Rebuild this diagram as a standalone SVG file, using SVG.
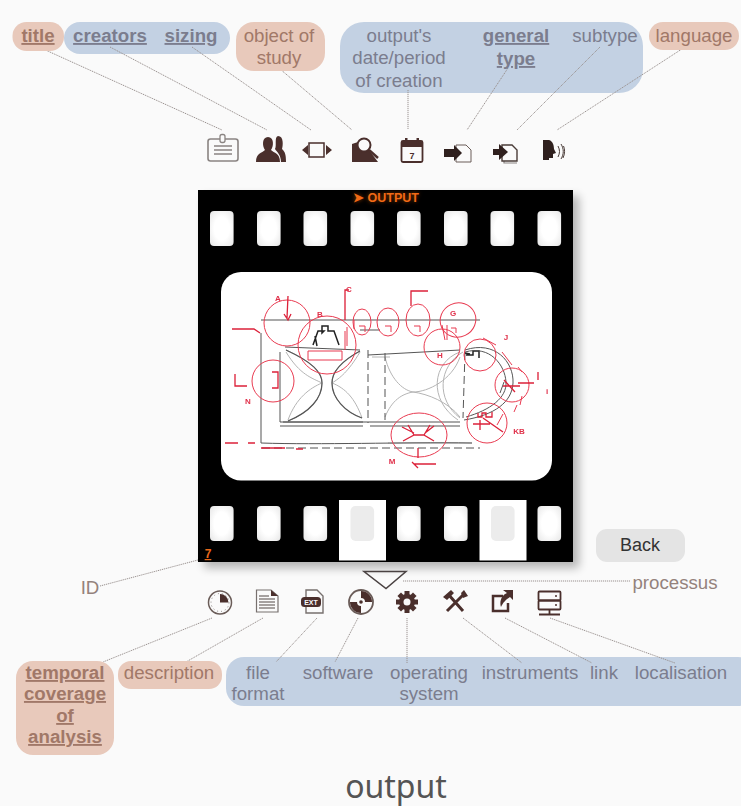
<svg xmlns="http://www.w3.org/2000/svg" width="741" height="806" viewBox="0 0 741 806">
<style>
text{font-family:"Liberation Sans",Arial,sans-serif;font-size:18.7px;text-anchor:middle}
.b{fill:#c3d1e3}.s{fill:#e8c9bb}
.tb{fill:#7b7d8e}.ts{fill:#a17868}.tg{fill:#94827c}
.u{font-weight:bold;text-decoration:underline}
.c{fill:none;stroke:#9a9290;stroke-width:1;stroke-dasharray:1.2 .8}
.i{fill:#4a2f2c}.il{fill:none;stroke:#4a2f2c;stroke-width:1.8}.ig{fill:none;stroke:#8a8482;stroke-width:1.6}
.r{fill:none;stroke:#e83a50;stroke-width:1}.rd{fill:none;stroke:#dc2038;stroke-width:1.3}
.k{fill:none;stroke:#555;stroke-width:1}.kb{fill:none;stroke:#222;stroke-width:1.5}.x{fill:none;stroke:#555;stroke-width:1.200}.g{fill:none;stroke:#b4b4b4;stroke-width:1}
.d{stroke-dasharray:8 4}
.h{fill:url(#hole)}
.l{font-size:8px;font-weight:bold;fill:#e0304a}
</style>
<defs>
<radialGradient id="hole" cx=".5" cy=".5" r=".72"><stop offset=".45" stop-color="#fff"/><stop offset=".85" stop-color="#ececec"/><stop offset="1" stop-color="#c9c9c9"/></radialGradient>
<filter id="sh" x="-10%" y="-10%" width="125%" height="125%"><feGaussianBlur stdDeviation="5"/></filter>
<filter id="soft" x="-5%" y="-5%" width="110%" height="110%"><feGaussianBlur stdDeviation=".4"/></filter>
<filter id="glow" x="-20%" y="-60%" width="140%" height="220%"><feGaussianBlur stdDeviation="2"/></filter>
</defs>
<rect width="741" height="806" fill="#fafafa"/>

<g id="bands">
<rect class="b" x="64" y="22" width="166" height="32" rx="16"/>
<rect class="b" x="340" y="22" width="303" height="71" rx="24"/>
<rect class="b" x="226" y="657" width="530" height="49" rx="18"/>
</g>

<g id="connectors">
<path class="c" d="M41 48L222 130M110 47L267 130M192 47L311 130M280 69L352 130M408 90V129M508 68L467 130M600 47L517 130M685 47L557 130"/>
<path class="c" d="M100 586L198 560M403 581H630M212 618L103 662M263 618L186 662M317 618L276 662M358 618L335 662M407 618V663M463 618L522 663M505 618L592 663M550 618L675 663"/>
</g>

<g id="film">
<rect x="204" y="196" width="375" height="372" fill="#000" opacity=".28" filter="url(#sh)"/>
<rect x="198" y="190" width="375" height="372" fill="#000"/>
<g id="holes-top">
<rect class="h" x="210" y="211" width="23.6" height="35" rx="4"/><rect class="h" x="257" y="211" width="23.6" height="35" rx="4"/><rect class="h" x="303.5" y="211" width="23.6" height="35" rx="4"/><rect class="h" x="350.5" y="211" width="23.6" height="35" rx="4"/><rect class="h" x="397" y="211" width="23.6" height="35" rx="4"/><rect class="h" x="444" y="211" width="23.6" height="35" rx="4"/><rect class="h" x="490.5" y="211" width="23.6" height="35" rx="4"/><rect class="h" x="537.5" y="211" width="23.6" height="35" rx="4"/>
</g>
<g id="holes-bottom">
<rect x="339" y="500" width="47" height="60.5" fill="#fff"/><rect x="479.5" y="500" width="47" height="60.5" fill="#fff"/>
<rect class="h" x="210" y="506" width="23.6" height="35" rx="4"/><rect class="h" x="257" y="506" width="23.6" height="35" rx="4"/><rect class="h" x="303.5" y="506" width="23.6" height="35" rx="4"/><rect x="350.5" y="506" width="23.6" height="35" rx="5" fill="#ececec"/><rect class="h" x="397" y="506" width="23.6" height="35" rx="4"/><rect class="h" x="444" y="506" width="23.6" height="35" rx="4"/><rect x="491" y="506" width="23.6" height="35" rx="5" fill="#ececec"/><rect class="h" x="537.5" y="506" width="23.6" height="35" rx="4"/>
</g>
<rect x="221" y="272" width="331" height="208.500" rx="20" fill="#fff"/>
<g id="sketch" filter="url(#soft)">
<path class="g" d="M286 350C312 362 322 372 322 383C322 398 310 412 288 421M360 351C340 362 332 372 332 383C332 398 345 412 362 418M286 352C300 375 312 378 322 383M360 352C348 372 340 378 332 383M288 420C296 398 310 388 322 383M362 418C355 398 345 388 332 383"/>
<path class="g" d="M385 357C390 378 402 390 413 392C428 392 452 380 460 357M385 417C392 400 402 394 413 392C428 394 448 402 460 417M460 352C432 362 428 400 458 420M463 352C438 366 436 400 460 418M388 443H472M372 357H390"/>
<path class="k" d="M280 352V422H363M285 347L360 350M368 355L460 350M283 422L460 422M261 333L261 443C320 445 400 442 472 443M280 426H363M370 426H460"/>
<path class="k d" d="M368 350V423M385 353V420M465 352L463 418M262 448H480"/>
<path class="x" d="M286 350C312 362 322 372 322 383C322 398 310 412 288 421M360 351C340 362 332 372 332 383C332 398 345 412 362 418"/>
<path class="kb" d="M313 345L318 331H324L322 333V326H328V331H334L339 345M317 346L315 336M466 355H473V351H479V358M465 353L470 354"/>
<path class="k" d="M465 352C490 345 505 365 506 382C507 398 490 410 466 417M465 350C495 340 514 362 513 383C512 402 495 415 464 420M504 382L500 393"/>
<path class="rd" d="M232 329H254L260 333M225 443H238M248 443H255M261 448H285M296 449H303"/>
<path class="k" d="M261 320H480M360 330H380"/>
<path class="r" d="M308 351H342V360H308ZM345 331V350M347 327V346"/>
<circle class="r" cx="287" cy="323" r="23"/>
<circle class="r" cx="327" cy="345" r="29"/>
<ellipse class="r" cx="362" cy="322" rx="9" ry="13"/>
<ellipse class="r" cx="388" cy="322" rx="11" ry="14"/>
<ellipse class="r" cx="418" cy="320" rx="12" ry="16"/>
<ellipse class="r" cx="458" cy="320" rx="18" ry="17" transform="rotate(-25 458 320)"/>
<circle class="r" cx="442" cy="347" r="18"/>
<circle class="r" cx="480" cy="355" r="16"/>
<circle class="r" cx="512" cy="385" r="17"/>
<circle class="r" cx="487" cy="423" r="20"/>
<ellipse class="r" cx="419" cy="435" rx="28" ry="22"/>
<circle class="r" cx="273" cy="381" r="21"/>
<path class="rd" d="M272 372H278V388H272M235 374V386H247M345 320V290H349M411 306V291H428M288 296L287 318M284 314L288 320L291 314"/>
<path class="r" d="M354 320V329M359 326H365V332M385 326H391V332M414 326H420V332M442 325L445 340M447 325V340M451 328H456V333M483 338L496 345M502 352L512 365M518 367L522 372M522 396L520 405M517 405L514 412M503 414L497 425"/>
<path class="rd" d="M403 441L414 435L408 425M434 441L424 435L430 425M414 435H424M402 427L414 433M434 426L425 433M418 448V458M414 464H436M412 462L418 468M473 424H490M483 418L503 432M478 413V417H482V413H486V417H492V412M480 430V420M503 386H520M504 380L515 392M518 383H534M538 372V380"/>
<g id="sketch-letters">
<text class="l" x="278" y="301">A</text><text class="l" x="320" y="317">B</text><text class="l" x="349" y="292">C</text><text class="l" x="248" y="404">N</text><text class="l" x="392" y="464">M</text><text class="l" x="506" y="340">J</text><text class="l" x="547" y="394">i</text><text class="l" x="519" y="434">KB</text><text class="l" x="453" y="316">G</text><text class="l" x="440" y="358">H</text>
</g>
</g>
<text x="386" y="202" style="font-size:12.500px;font-weight:bold;fill:#ff6a00;opacity:.55" filter="url(#glow)">➤ OUTPUT</text>
<text x="386" y="202" style="font-size:12.500px;font-weight:bold;fill:#f26a16">➤ OUTPUT</text>
<g id="id-value"><text x="208" y="558" class="u" style="font-size:12px;fill:#e8681a">7</text></g>
</g>

<g id="n-title"><rect class="s" x="12.500" y="22" width="51.500" height="29" rx="14"/><text class="ts u" x="38" y="42">title</text>
<rect x="208" y="139" width="30" height="22" rx="2.500" class="ig"/><rect x="220" y="134.500" width="5" height="8" rx="2" fill="#fafafa" stroke="#8a8482" stroke-width="1.300"/><path class="ig" d="M214 146H232M214 150H232M214 154H232"/></g>
<g id="n-creators"><text class="tb u" x="110" y="42">creators</text>
<path class="i" d="M256 162C256 153 262 153 265 150C262 146 262 137 268 137C274 137 274 146 271 150C274 153 280 153 280 162Z"/><path class="i" d="M278 136C284 136 283 146 282 149C285 152 286 154 286 162H281C281 155 277 152 275 149C277 146 274 137 278 136Z"/></g>
<g id="n-sizing"><text class="tb u" x="191" y="42">sizing</text>
<rect x="309" y="143" width="15" height="14" fill="none" stroke="#4a2f2c" stroke-width="1.500"/><path class="i" d="M302 150L308 145V155ZM332 150L326 145V155Z"/></g>
<g id="n-object"><rect class="s" x="236" y="22" width="89" height="49" rx="18"/><text class="ts" x="279" y="42">object of</text><text class="ts" x="279" y="64">study</text>
<path class="i" d="M352 144L358 142L366 146L378 162H352Z"/><circle cx="364" cy="145" r="6.500" fill="#fafafa" stroke="#4a2f2c" stroke-width="2"/><path fill="none" stroke="#4a2f2c" stroke-width="2.500" d="M369 150L378 158"/></g>
<g id="n-date"><text class="tb" x="399" y="42">output's</text><text class="tb" x="399" y="64">date/period</text><text class="tb" x="399" y="87">of creation</text>
<rect x="401.500" y="141" width="21" height="21" rx="1.500" class="il"/><path d="M401 141H423V147H401Z" class="i"/><rect x="405" y="138" width="2.500" height="6" class="i"/><rect x="416.500" y="138" width="2.500" height="6" class="i"/><text x="412" y="159" style="font-size:9px;font-weight:bold;fill:#4a2f2c">7</text></g>
<g id="n-general"><text class="tb u" x="516" y="42">general</text><text class="tb u" x="516" y="65">type</text>
<path d="M456 145H466L471 150V162H456Z" fill="#fafafa" stroke="#6a5c58" stroke-width="1"/><path fill="#2f201e" d="M444 149H454V145L462 153L454 161V157H444Z"/></g>
<g id="n-subtype"><text class="tb" x="605" y="42">subtype</text>
<path d="M504 147V163H517" fill="none" stroke="#8a8482" stroke-width="1.200"/><path d="M502 145H512L517 150V161H502Z" fill="#fafafa" stroke="#4a3c38" stroke-width="1.400"/><path fill="#2f201e" d="M493 149H499V144L508 152L499 160V155H493Z"/></g>
<g id="n-language"><rect class="s" x="649" y="22" width="90" height="28" rx="14"/><text class="ts" x="694" y="42">language</text>
<path fill="#2f201e" d="M543 140H549C553 141 554 146 554 149L556 153L553 154V158H549V160H543Z"/><path fill="none" stroke="#4a3c38" stroke-width="1" d="M558 146C560 150 560 153 558 157M561 144C564 149 564 154 561 159M563.500 146C565 149 565 154 563 158"/></g>

<g id="n-id"><text class="tg" x="90" y="594">ID</text></g>
<g id="n-processus"><path d="M364 571.500H406L386 588.500Z" fill="none" stroke="#4a4242" stroke-width="1.500"/><text class="tg" x="675" y="589">processus</text></g>
<g id="n-temporal"><rect class="s" x="16" y="661" width="98" height="94" rx="17"/><text class="ts u" x="65" y="679">temporal</text><text class="ts u" x="65" y="700">coverage</text><text class="ts u" x="65" y="722">of</text><text class="ts u" x="65" y="743">analysis</text>
<circle cx="220" cy="602.500" r="11.500" fill="#fafafa" stroke="#6a5c58" stroke-width="1.500"/><path class="i" d="M220 594A8.500 8.500 0 0 1 228.500 602.500H220Z"/><circle cx="220" cy="602.500" r="9" fill="none" stroke="#8a8482" stroke-width="1" stroke-dasharray="1 3"/></g>
<g id="n-description"><rect class="s" x="118" y="661" width="104" height="28" rx="13"/><text class="ts" x="169" y="679">description</text>
<path d="M256.500 590H271L278 596V612H256.500Z" fill="#fafafa" stroke="#77706e" stroke-width="1.200"/><path class="i" d="M271 590L278 596H271Z"/><path fill="none" stroke="#8a8482" stroke-width="1.400" d="M259 596H269M259 599H275M259 602H275M259 605H275M259 608H275"/></g>
<g id="n-format"><text class="tb" x="258" y="679">file</text><text class="tb" x="258" y="700">format</text>
<path d="M306 590H317L323 596V613H306Z" fill="#fafafa" stroke="#77706e" stroke-width="1.400"/><rect x="301" y="597" width="20" height="10" rx="3.500" class="i"/><text x="311" y="605" style="font-size:7px;font-weight:bold;fill:#fafafa">EXT</text></g>
<g id="n-software"><text class="tb" x="338" y="679">software</text>
<circle cx="361" cy="602" r="12" fill="#fafafa" stroke="#6a5c58" stroke-width="1.800"/><path class="i" d="M361 591A11 11 0 0 1 372 602H365A4 4 0 0 0 361 598ZM361 613A11 11 0 0 1 350 602H357A4 4 0 0 0 361 606Z"/><circle cx="361" cy="602" r="1.800" class="i"/></g>
<g id="n-os"><text class="tb" x="429" y="679">operating</text><text class="tb" x="429" y="700">system</text>
<g class="i"><circle cx="407" cy="602" r="8"/><rect x="404.500" y="591" width="5" height="22"/><rect x="396" y="599.500" width="22" height="5"/><rect x="404.500" y="591" width="5" height="22" transform="rotate(45 407 602)"/><rect x="404.500" y="591" width="5" height="22" transform="rotate(-45 407 602)"/></g><circle cx="407" cy="602" r="3.500" fill="#fafafa"/></g>
<g id="n-instruments"><text class="tb" x="530" y="679">instruments</text>
<path fill="none" stroke="#4a2f2c" stroke-width="3" d="M448 594L463 611M464 594L447 611"/><path class="i" d="M443 597L451 590L454 593L447 600ZM464 590L468 596L463 598L461 593Z"/></g>
<g id="n-link"><text class="tb" x="604" y="679">link</text>
<path fill="none" stroke="#4a2f2c" stroke-width="2.500" d="M503 596H493V611H508V603"/><path class="i" d="M503 590H513V600L510 597C505 600 503 603 501 607C499 601 502 595 507 593Z"/></g>
<g id="n-localisation"><text class="tb" x="681" y="679">localisation</text>
<rect x="538.500" y="591.500" width="22" height="9" rx="1" class="il"/><rect x="538.500" y="600.500" width="22" height="9" rx="1" class="il"/><path class="il" d="M549.500 609.500V614M539 614.500H560"/><circle cx="556" cy="596" r="1" class="i"/><circle cx="556" cy="605" r="1" class="i"/></g>

<g id="back"><rect x="596" y="529" width="89" height="33" rx="11" fill="#e4e4e4"/><text x="640" y="551" style="fill:#333;font-size:18px">Back</text></g>
<g id="caption"><text x="396" y="798" style="font-family:'Noto Sans','Open Sans',sans-serif;font-size:32px;fill:#555">output</text></g>
</svg>
